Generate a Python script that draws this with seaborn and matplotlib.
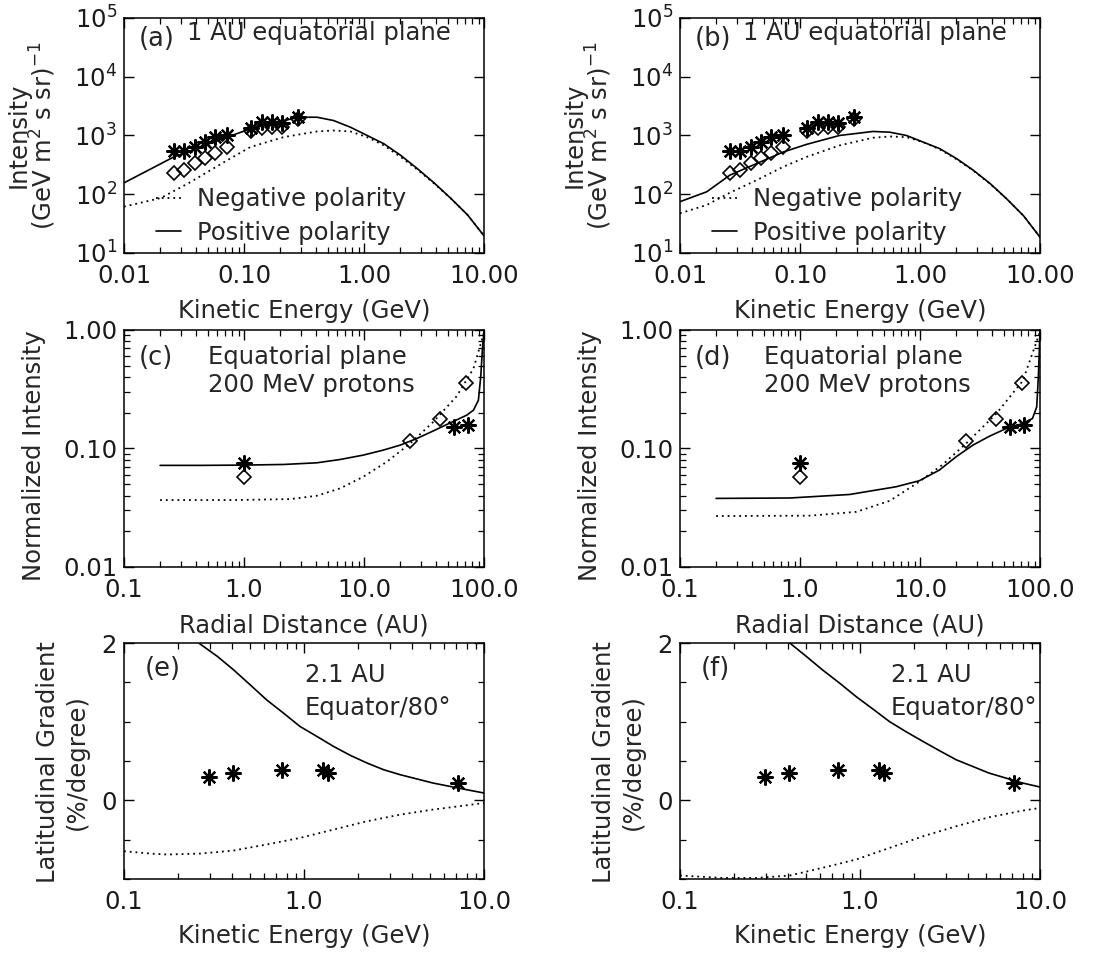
import numpy as np
import matplotlib
matplotlib.use("Agg")
import matplotlib.pyplot as plt
from matplotlib.lines import Line2D
from matplotlib.ticker import NullFormatter, FixedLocator
import seaborn as sns

# ---- (a)/(b): 1 AU spectra ----
obs_e = [0.026, 0.0318, 0.0391, 0.0473, 0.0573, 0.0717, 0.114, 0.140, 0.170, 0.206, 0.280]
obs_star = [543, 543, 635, 771, 937, 1000, 1350, 1680, 1680, 1615, 2094]
obs_diam = [234, 263, 345, 420, 509, 635, 1183, 1349, 1381, 1381, 1914]

a_pos_e = [0.01, 0.026, 0.0434, 0.0724, 0.1131, 0.2136, 0.2944, 0.406, 0.558, 0.770,
           1.062, 1.464, 2.02, 2.78, 3.84, 5.29, 7.29, 10.0]
a_pos_i = [156, 431, 635, 937, 1297, 1795, 2044, 2044, 1795, 1383,
           1000, 723, 459, 273, 156, 85, 44.5, 19.6]
a_neg_e = [0.01, 0.0202, 0.0345, 0.0724, 0.1131, 0.2136, 0.406, 0.558, 0.770,
           1.062, 1.464, 2.02, 2.78, 3.84, 5.29, 7.29, 10.0]
a_neg_i = [61.5, 86, 154, 378, 635, 937, 1170, 1216, 1170,
           937, 678, 431, 263, 152, 85, 44.5, 19.6]

b_pos_e = [0.01, 0.0167, 0.026, 0.0434, 0.0724, 0.1131, 0.2136, 0.406, 0.558, 0.770,
           1.062, 1.464, 2.02, 2.78, 3.84, 5.29, 7.29, 10.0]
b_pos_i = [74.7, 110, 211, 332, 522, 704, 1000, 1170, 1138, 1000,
           771, 595, 403, 256, 152, 83, 43, 18.6]
b_neg_e = [0.01, 0.0167, 0.026, 0.0434, 0.0724, 0.1131, 0.2136, 0.406, 0.558, 0.770,
           1.062, 1.464, 2.02, 2.78, 3.84, 5.29, 7.29, 10.0]
b_neg_i = [47.4, 65.6, 106, 173, 292, 431, 678, 914, 962, 937,
           771, 580, 393, 253, 150, 83, 43, 18.6]

# ---- (c)/(d): radial profiles of 200 MeV protons ----
rad_star_r = [1.0, 56, 73]
rad_star_i = [0.0748, 0.152, 0.159]
rad_diam_r = [1.0, 24.2, 43, 70.8]
rad_diam_i = [0.0577, 0.115, 0.179, 0.357]

c_pos_r = [0.2, 0.4345, 1.007, 2.146, 4.05, 6.31, 9.86, 14.5, 20.0, 27.6, 38.0,
           52.4, 71.8, 81.7, 89.8, 93.9, 96.9, 100]
c_pos_i = [0.0720, 0.0720, 0.0724, 0.0733, 0.0757, 0.0807, 0.0879, 0.0969, 0.1067,
           0.1214, 0.141, 0.1645, 0.191, 0.2105, 0.255, 0.402, 0.675, 0.98]
c_neg_r = [0.2, 0.82, 2.43, 4.05, 6.31, 9.86, 15.5, 24.2, 37.9, 59.2, 81.7, 100]
c_neg_i = [0.0367, 0.0367, 0.0374, 0.0399, 0.046, 0.0577, 0.0772, 0.110, 0.168,
           0.276, 0.472, 0.95]

d_pos_r = [0.2, 0.82, 2.59, 4.33, 6.31, 9.86, 14.5, 20.0, 27.6, 38.0, 52.4, 71.8,
           86.6, 93.9, 96.9, 100]
d_pos_i = [0.0379, 0.0382, 0.0409, 0.0446, 0.0475, 0.0534, 0.0657, 0.0851, 0.1067,
           0.127, 0.1475, 0.1626, 0.179, 0.2245, 0.402, 0.962]
d_neg_r = [0.2, 1.21, 2.95, 5.6, 9.86, 15.5, 24.2, 43.3, 71.8, 100]
d_neg_i = [0.0269, 0.0271, 0.0292, 0.0362, 0.0524, 0.0733, 0.110, 0.197, 0.372, 0.962]

# ---- (e)/(f): latitudinal gradients at 2.1 AU ----
lat_star_e = [0.296, 0.402, 0.755, 1.28, 1.36, 7.2]
lat_star_g = [0.30, 0.35, 0.39, 0.38, 0.35, 0.22]

e_pos_e = [0.26, 0.33, 0.407, 0.503, 0.62, 0.77, 0.95, 1.18, 1.46, 1.81, 2.24, 2.77,
           3.42, 5.2, 8.0, 10.0]
e_pos_g = [2.0, 1.83, 1.657, 1.467, 1.277, 1.108, 0.939, 0.812, 0.685, 0.571, 0.474,
           0.389, 0.326, 0.22, 0.135, 0.093]
e_neg_e = [0.1, 0.14, 0.174, 0.266, 0.407, 0.62, 0.95, 1.46, 2.24, 3.42, 5.2, 8.0, 10.0]
e_neg_g = [-0.647, -0.677, -0.689, -0.677, -0.638, -0.562, -0.478, -0.372, -0.266,
           -0.182, -0.118, -0.063, -0.034]

f_pos_e = [0.407, 0.503, 0.62, 0.77, 0.95, 1.18, 1.46, 1.81, 2.24, 2.77, 3.42, 5.2,
           8.0, 10.0]
f_pos_g = [2.0, 1.83, 1.657, 1.49, 1.32, 1.16, 1.0, 0.87, 0.748, 0.63, 0.516, 0.347,
           0.22, 0.169]
f_neg_e = [0.1, 0.174, 0.266, 0.407, 0.62, 0.95, 1.46, 2.24, 3.42, 5.2, 8.0, 10.0]
f_neg_g = [-0.956, -0.987, -0.987, -0.956, -0.858, -0.753, -0.605, -0.457, -0.33,
           -0.216, -0.131, -0.097]

spec_xticks = [0.01, 0.1, 1, 10]
spec_xlabels = ["0.01", "0.10", "1.00", "10.00"]
spec_yticks = [10, 100, 1e3, 1e4, 1e5]
spec_ylabels = ["$10^{1}$", "$10^{2}$", "$10^{3}$", "$10^{4}$", "$10^{5}$"]
rad_xticks = [0.1, 1, 10, 100]
rad_xlabels = ["0.1", "1.0", "10.0", "100.0"]
rad_yticks = [0.01, 0.1, 1.0]
rad_ylabels = ["0.01", "0.10", "1.00"]
lat_xticks = [0.1, 1, 10]
lat_xlabels = ["0.1", "1.0", "10.0"]
lat_yticks = [0, 2]
lat_yminor = [-1, -0.5, 0.5, 1, 1.5]

sns.set_theme(style="ticks")
plt.rcParams["font.family"] = ["DejaVu Sans"]
plt.rcParams["mathtext.fontset"] = "dejavusans"
FS = 17.5

fig = plt.figure(figsize=(11.16, 9.55), dpi=100)
W = 360 / 1116
cols = [124 / 1116, 680 / 1116]
rows = [(0.7351, 0.2461), (0.4063, 0.2482), (0.0796, 0.2471)]
axes = {}
for r, names in enumerate([("a", "b"), ("c", "d"), ("e", "f")]):
    for c, name in enumerate(names):
        axes[name] = fig.add_axes([cols[c], rows[r][0], W, rows[r][1]])

SOLID = dict(color="black", linewidth=1.2, linestyle="-")
DOT = dict(color="black", linewidth=1.3, linestyle=(0, (1, 2.2)))
STAR = dict(marker=(8, 2, 0), markersize=11.5, markeredgewidth=1.6, color="black", linestyle="none")
DIAM = dict(marker="D", markersize=7.5, markeredgewidth=1.2, markerfacecolor="none",
            markeredgecolor="black", linestyle="none")


def style(ax):
    for s in ax.spines.values():
        s.set_linewidth(1.1)
        s.set_color("black")
    ax.tick_params(which="both", direction="in", top=True, right=True, color="black",
                   labelsize=FS, labelcolor="#1a1a1a")
    ax.tick_params(which="major", length=7, width=1.0)
    ax.tick_params(which="minor", length=4, width=0.9)
    ax.tick_params(axis="x", which="both", pad=8)
    ax.tick_params(axis="y", which="both", pad=5)


# spectra
for name, pe, pi, ne, ni in [("a", a_pos_e, a_pos_i, a_neg_e, a_neg_i),
                             ("b", b_pos_e, b_pos_i, b_neg_e, b_neg_i)]:
    ax = axes[name]
    ax.set_xscale("log")
    ax.set_yscale("log")
    sns.lineplot(x=ne, y=ni, ax=ax, sort=False, **DOT)
    sns.lineplot(x=pe, y=pi, ax=ax, sort=False, **SOLID)
    ax.plot(obs_e, obs_diam, **DIAM)
    ax.plot(obs_e, obs_star, **STAR)
    ax.set_xlim(0.01, 10)
    ax.set_ylim(10, 1e5)
    ax.set_xticks(spec_xticks, spec_xlabels)
    ax.set_yticks(spec_yticks, spec_ylabels)
    ax.xaxis.set_minor_formatter(NullFormatter())
    ax.yaxis.set_minor_formatter(NullFormatter())
    style(ax)
    ax.set_xlabel("Kinetic Energy (GeV)", fontsize=FS, va="center")
    ax.xaxis.set_label_coords(0.5, -0.245)
    ax.set_ylabel("Intensity\n(GeV m$^{2}$ s sr)$^{-1}$", fontsize=FS, va="center",
                  linespacing=0.9)
    ax.yaxis.set_label_coords(-0.255, 0.5)
    ax.text(0.04, 0.91, f"({name})", transform=ax.transAxes, fontsize=FS + 1,
            ha="left", va="center")
    ax.text(0.175, 0.936, "1 AU equatorial plane", transform=ax.transAxes, fontsize=FS,
            ha="left", va="center")
    handles = [Line2D([], [], **DOT), Line2D([], [], **SOLID)]
    ax.legend(handles, ["Negative polarity", "Positive polarity"], loc="lower left",
              bbox_to_anchor=(0.09, 0.035), frameon=False, fontsize=FS, handlelength=1.0,
              handletextpad=0.65, labelspacing=0.4, borderpad=0, borderaxespad=0)

# radial profiles
for name, pr, pi, nr, ni in [("c", c_pos_r, c_pos_i, c_neg_r, c_neg_i),
                             ("d", d_pos_r, d_pos_i, d_neg_r, d_neg_i)]:
    ax = axes[name]
    ax.set_xscale("log")
    ax.set_yscale("log")
    sns.lineplot(x=nr, y=ni, ax=ax, sort=False, **DOT)
    sns.lineplot(x=pr, y=pi, ax=ax, sort=False, **SOLID)
    ax.plot(rad_diam_r, rad_diam_i, **DIAM)
    ax.plot(rad_star_r, rad_star_i, **STAR)
    ax.set_xlim(0.1, 100)
    ax.set_ylim(0.01, 1.0)
    ax.set_xticks(rad_xticks, rad_xlabels)
    ax.set_yticks(rad_yticks, rad_ylabels)
    ax.xaxis.set_minor_formatter(NullFormatter())
    ax.yaxis.set_minor_formatter(NullFormatter())
    style(ax)
    ax.set_xlabel("Radial Distance (AU)", fontsize=FS, va="center")
    ax.xaxis.set_label_coords(0.5, -0.245)
    ax.set_ylabel("Normalized Intensity", fontsize=FS, va="center")
    ax.yaxis.set_label_coords(-0.25, 0.47)
    ax.text(0.04, 0.882, f"({name})", transform=ax.transAxes, fontsize=FS + 1,
            ha="left", va="center")
    ax.text(0.233, 0.886, "Equatorial plane", transform=ax.transAxes, fontsize=FS,
            ha="left", va="center")
    ax.text(0.233, 0.768, "200 MeV protons", transform=ax.transAxes, fontsize=FS,
            ha="left", va="center")

# latitudinal gradients
for name, pe, pg, ne, ng, tx in [("e", e_pos_e, e_pos_g, e_neg_e, e_neg_g, 0.503),
                                 ("f", f_pos_e, f_pos_g, f_neg_e, f_neg_g, 0.586)]:
    ax = axes[name]
    ax.set_xscale("log")
    sns.lineplot(x=ne, y=ng, ax=ax, sort=False, **DOT)
    sns.lineplot(x=pe, y=pg, ax=ax, sort=False, **SOLID)
    ax.plot(lat_star_e, lat_star_g, **STAR)
    ax.set_xlim(0.1, 10)
    ax.set_ylim(-1, 2)
    ax.set_xticks(lat_xticks, lat_xlabels)
    ax.xaxis.set_minor_formatter(NullFormatter())
    ax.set_yticks(lat_yticks, [str(v) for v in lat_yticks])
    ax.yaxis.set_minor_locator(FixedLocator(lat_yminor))
    style(ax)
    ax.set_xlabel("Kinetic Energy (GeV)", fontsize=FS, va="center")
    ax.xaxis.set_label_coords(0.5, -0.242)
    ax.set_ylabel("Latitudinal Gradient\n(%/degree)", fontsize=FS, va="center",
                  linespacing=1.25)
    ax.yaxis.set_label_coords(-0.172, 0.496)
    ax.text(0.058, 0.89, f"({name})", transform=ax.transAxes, fontsize=FS + 1,
            ha="left", va="center")
    ax.text(tx, 0.864, "2.1 AU", transform=ax.transAxes, fontsize=FS,
            ha="left", va="center")
    ax.text(tx, 0.725, "Equator/80°", transform=ax.transAxes, fontsize=FS,
            ha="left", va="center")

fig.savefig("out.png", dpi=100)
